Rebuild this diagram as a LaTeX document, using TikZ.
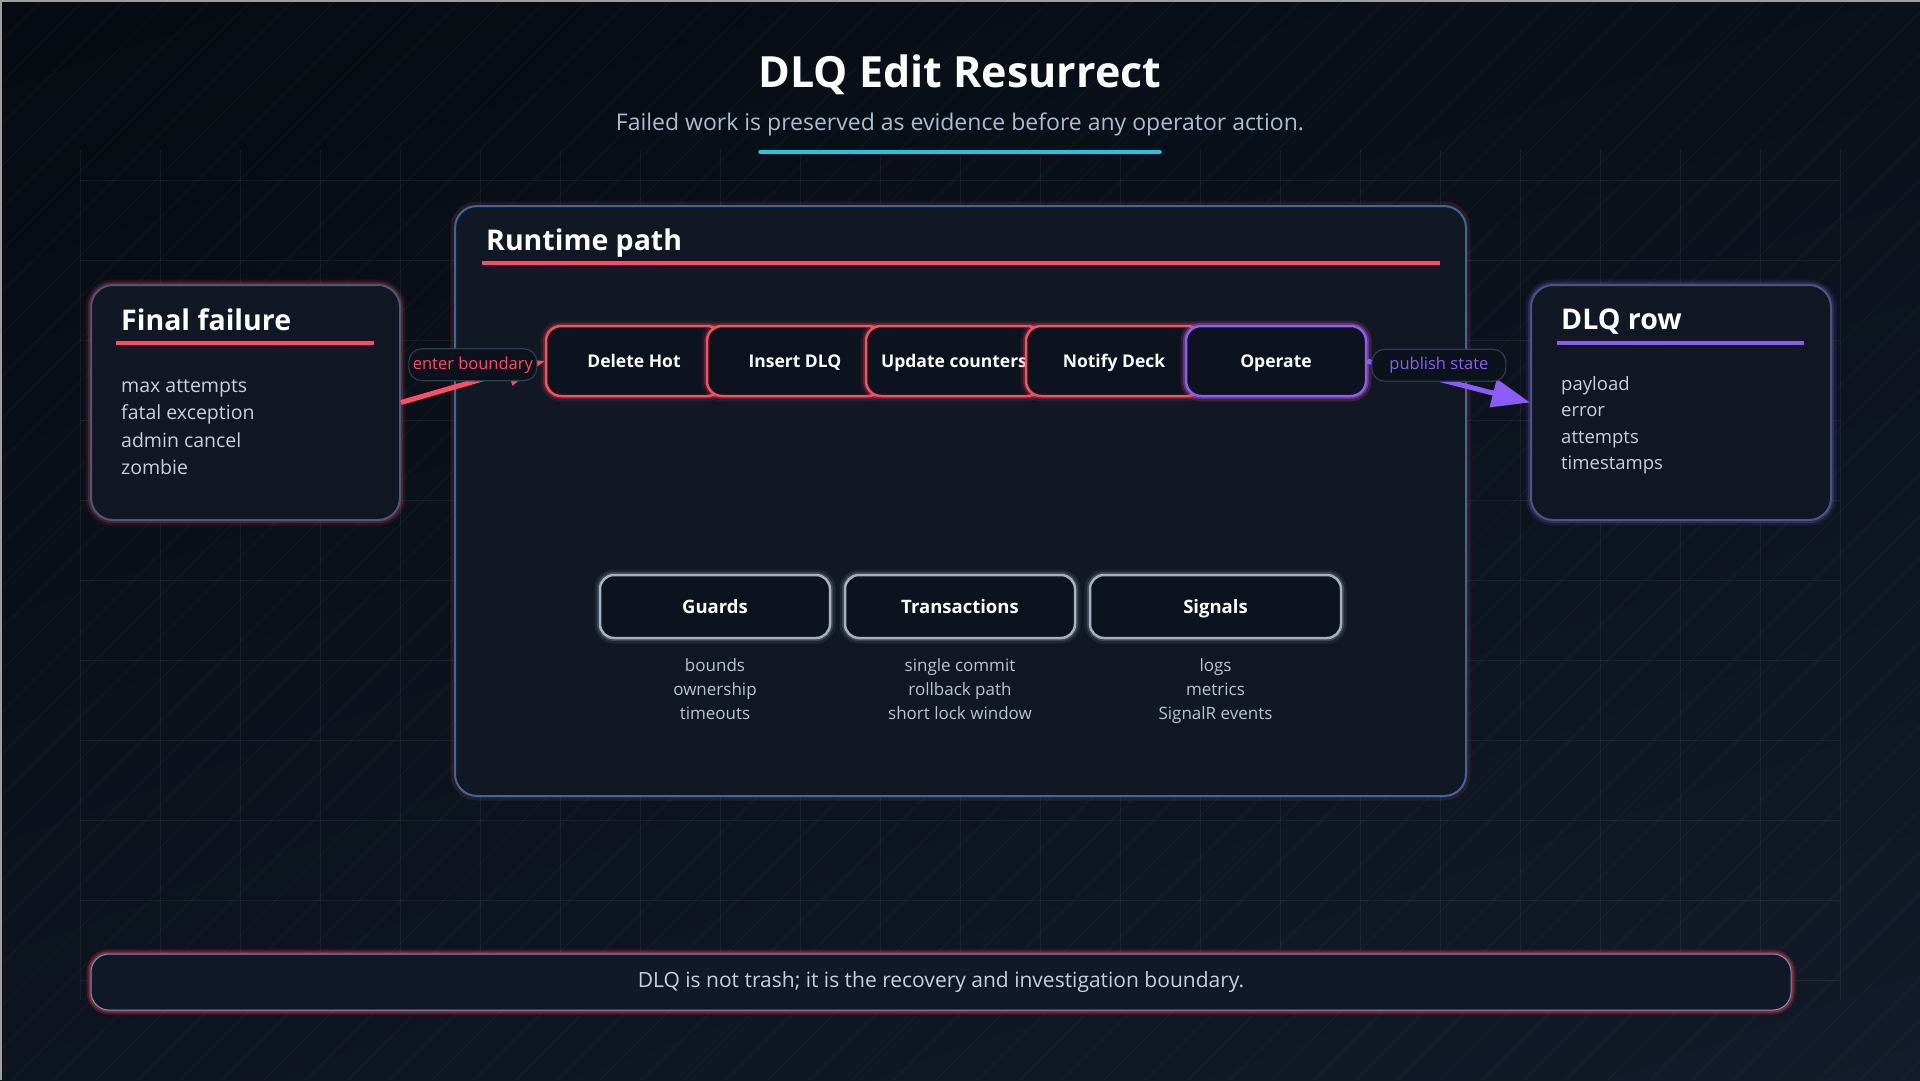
\documentclass[tikz,border=0pt]{standalone}
\usepackage{fontspec}
\setmainfont{Open Sans}
\usetikzlibrary{arrows.meta,positioning,shadings}

\definecolor{bgtl}{HTML}{070B12}
\definecolor{bgbr}{HTML}{111B29}
\definecolor{panelfill}{HTML}{111824}
\definecolor{stepfill}{HTML}{0D131E}
\definecolor{pillfill}{HTML}{0C121B}
\definecolor{pilledge}{HTML}{2E3C52}
\definecolor{sideedge}{HTML}{48597A}
\definecolor{runedge}{HTML}{3C68A2}
\definecolor{accred}{HTML}{FF4D63}
\definecolor{accpurple}{HTML}{8B5CF6}
\definecolor{acccyan}{HTML}{22C5E8}
\definecolor{lightedge}{HTML}{A7B1C1}
\definecolor{subtitle}{HTML}{AEBCD0}
\definecolor{itemgray}{HTML}{C7D0DC}
\definecolor{subgray}{HTML}{B9C3D1}
\definecolor{bannerfill}{HTML}{111829}

\newcommand{\fsz}[2]{\fontsize{#1}{#2}\selectfont}

\begin{document}
\begin{tikzpicture}[x=1pt,y=-1pt]
    \tikzstyle{glow}=[preaction={draw=#1,draw opacity=0.10,line width=11pt},
                      preaction={draw=#1,draw opacity=0.22,line width=6pt}]
    \tikzstyle{panel}=[rounded corners=22pt,fill=panelfill,draw=sideedge,line width=2pt]
    \tikzstyle{stepbox}=[rounded corners=15pt,fill=stepfill,draw=accred,line width=2.5pt,glow=accred,
                         minimum width=176pt,minimum height=70pt,text height=12.5pt,text depth=0pt,
                         text=white,font=\fsz{17.5}{21}\bfseries]
    \tikzstyle{pillar}=[rounded corners=14pt,fill=stepfill,draw=lightedge,line width=2.5pt,glow=lightedge,
                        minimum width=230pt,minimum height=63pt,text height=13.2pt,text depth=0pt,
                        text=white,font=\fsz{18.5}{22}\bfseries]
    \tikzstyle{pill}=[rounded corners=13pt,fill=pillfill,draw=pilledge,line width=1.2pt,
                      minimum height=32pt,inner xsep=3pt,font=\fsz{16.5}{20}]
    \tikzstyle{flow}=[line width=5pt,-{Triangle[length=38pt,width=28pt]}]
    \tikzstyle{ptitle}=[anchor=base west,inner sep=0pt,text=white,font=\fsz{28.5}{34}\bfseries]
    \tikzstyle{pitem}=[anchor=base west,inner sep=0pt,text=itemgray]
    \tikzstyle{subitem}=[anchor=base,inner sep=0pt,text=subgray,font=\fsz{17}{20}]
    \tikzstyle{gridline}=[draw=white,draw opacity=0.055,line width=1pt]

    % Background, grid and hatching
    \useasboundingbox (0,0) rectangle (1920,1080);
    \shade[upper left=bgtl,upper right=bgtl!65!bgbr,lower left=bgtl!40!bgbr,lower right=bgbr]
        (0,0) rectangle (1920,1080);
    \begin{scope}
        \clip (0,0) rectangle (1920,1080);
        \foreach \d in {0,42,...,3000}
            \draw[draw=white,draw opacity=0.035,line width=1pt] (\d,0) -- (\d-1080,1080);
    \end{scope}
    \foreach \gx in {80,160,...,1840}
        \draw[gridline] (\gx,150) -- (\gx,1000);
    \foreach \gy in {180,260,...,980}
        \draw[gridline] (80,\gy) -- (1840,\gy);
    \draw[draw=gray!75,line width=1.5pt] (0.75,1080) -- (0.75,0.75) -- (1920,0.75);

    % Heading
    \node[anchor=base,inner sep=0pt,text=white,font=\fsz{43}{50}\bfseries] (title) at (960,87) {DLQ Edit Resurrect};
    \node[anchor=base,inner sep=0pt,text=subtitle,font=\fsz{23}{28}] (subtitle) at (960,130)
        {Failed work is preserved as evidence before any operator action.};
    \draw[acccyan,line width=3.5pt,line cap=round] (760,152) -- (1160,152);

    % Side panels and runtime panel
    \node[panel,glow=accred,minimum width=309pt,minimum height=235pt] (fail) at (245.5,402.5) {};
    \node[panel,glow=accpurple,minimum width=300pt,minimum height=235pt] (dlq) at (1681,402.5) {};
    \node[panel,draw=runedge,preaction={draw=accred,draw opacity=0.13,line width=9pt},
          minimum width=1011pt,minimum height=590pt] (runtime) at (960.5,501) {};

    % Final failure
    \node[ptitle] (fail-t) at (121,330) {Final failure};
    \draw[accred,line width=4pt] (116,343) -- (374,343);
    \foreach \txt [count=\i] in {max attempts,fatal exception,admin cancel,zombie}
        \node[pitem,font=\fsz{19.5}{24}] (fail-\i) at (121,364.5+27.5*\i) {\txt};

    % DLQ row
    \node[ptitle] (dlq-t) at (1561,329) {DLQ row};
    \draw[accpurple,line width=4pt] (1557,343) -- (1804,343);
    \foreach \txt [count=\i] in {payload,error,attempts,timestamps}
        \node[pitem,font=\fsz{18.5}{23}] (dlq-\i) at (1561,363.5+26.5*\i) {\txt};

    % Runtime path
    \node[ptitle] (runtime-t) at (486,250) {Runtime path};
    \draw[accred,line width=4.5pt] (482,263) -- (1440,263);

    \node[stepbox] (dh) at (634,361) {Delete Hot};
    \node[stepbox] (ins) at (795,361) {Insert DLQ};
    \node[stepbox] (upd) at (954,361) {Update counters};
    \node[stepbox] (ntf) at (1114,361) {Notify Deck};
    \node[stepbox,draw=accpurple,glow=accpurple,minimum width=180pt] (op) at (1276,361) {Operate};

    \node[pillar] (guards) at (715,606.5) {Guards};
    \node[pillar] (trans) at (960,606.5) {Transactions};
    \node[pillar,minimum width=251pt] (signals) at (1215.5,606.5) {Signals};

    \foreach \txt [count=\i] in {bounds,ownership,timeouts}
        \node[subitem] (guards-\i) at (715,647+24*\i) {\txt};
    \foreach \txt [count=\i] in {single commit,rollback path,short lock window}
        \node[subitem] (trans-\i) at (960,647+24*\i) {\txt};
    \foreach \txt [count=\i] in {logs,metrics,SignalR events}
        \node[subitem] (signals-\i) at (1215.5,647+24*\i) {\txt};

    % Boundary arrows
    \draw[flow,accred] (fail.east) -- node[pill,text=accred,minimum width=128pt,yshift=17pt] (enter) {enter boundary} (dh.west);
    \draw[flow,accpurple] (op.east) -- node[pill,text=accpurple,minimum width=134pt,pos=0.44,yshift=14pt] (publish) {publish state} (dlq.west);

    % Footer
    \node[rounded corners=18pt,fill=bannerfill,draw=runedge!70,line width=1pt,
          preaction={draw=accred!60!black,draw opacity=0.35,line width=9pt},
          preaction={draw=accred!70!black,draw opacity=0.6,line width=5pt},
          minimum width=1700pt,minimum height=56pt,text=itemgray,font=\fsz{21}{25}] (footer) at (941,982)
        {DLQ is not trash; it is the recovery and investigation boundary.};
\end{tikzpicture}
\end{document}
